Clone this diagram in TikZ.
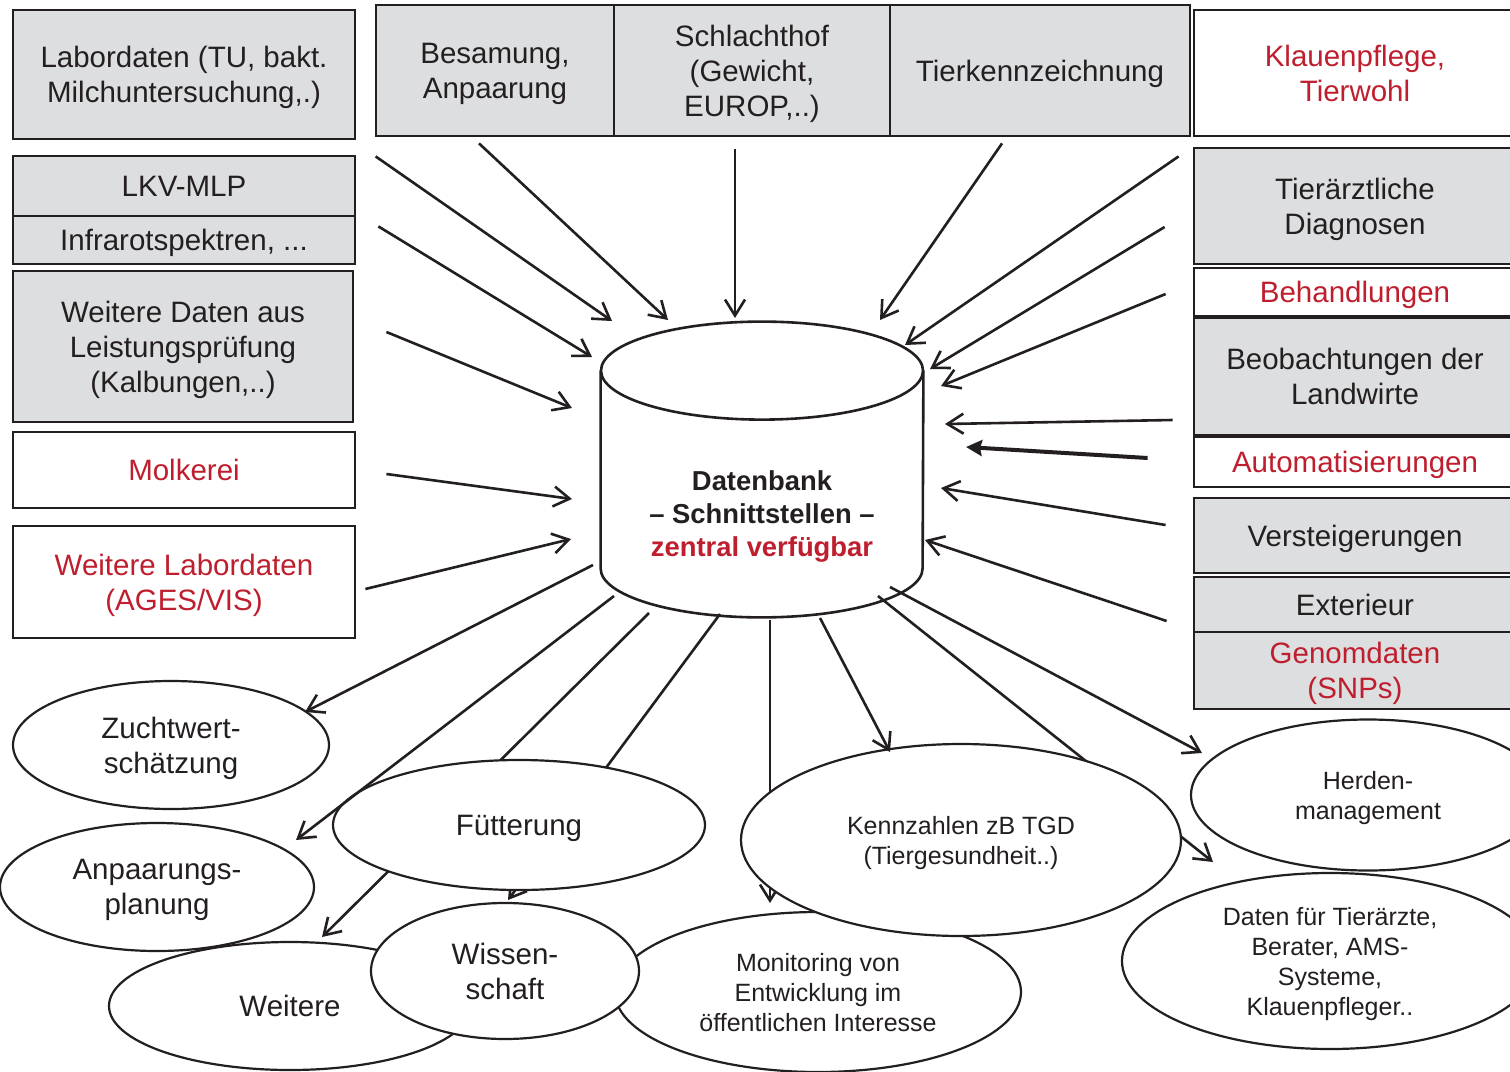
\documentclass[tikz,border=0pt]{standalone}
\usepackage{fontspec}
\setmainfont{Liberation Sans}
\usetikzlibrary{arrows.meta, shapes.geometric, backgrounds}

\definecolor{boxgray}{RGB}{221,222,224}
\definecolor{txtred}{RGB}{190,30,45}
\definecolor{ink}{RGB}{35,31,32}

\newcommand\boxfont{\fontsize{14.75pt}{17.5pt}\selectfont}
\newcommand\smallovalfont{\fontsize{12.5pt}{15pt}\selectfont}
\newcommand\dbfont{\fontsize{13.7pt}{16.5pt}\selectfont\bfseries}

\begin{document}
\begin{tikzpicture}[x=0.5pt, y=-0.5pt,
  gbox/.style={draw=ink, line width=1.4pt, fill=boxgray, inner sep=0pt,
    align=center, font=\boxfont, text=ink, text depth=0pt},
  wbox/.style={gbox, fill=white, text=txtred},
  oval/.style={ellipse, draw=ink, line width=1.1pt, fill=white, inner sep=0pt,
    align=center, font=\boxfont, text=ink, text depth=0pt},
  soval/.style={oval, font=\smallovalfont},
  cyl/.style={draw=ink, line width=1.3pt},
  inarr/.style={-{Straight Barb[length=8pt, width=10pt]}, line width=1.3pt, draw=ink},
  autoarr/.style={-{Stealth[length=8pt, width=8pt, inset=1pt]}, line width=2pt, draw=ink}]
\path[use as bounding box, clip] (0,0) rectangle (1510,1071);

% sources, left column
\node[gbox, minimum width=171pt, minimum height=64.5pt] (lab) at (184,74.5)
  {Labordaten (TU, bakt.\\Milchuntersuchung,.)};
\node[gbox, minimum width=171pt, minimum height=30pt] (lkv) at (184,186) {LKV-MLP};
\node[gbox, minimum width=171pt, minimum height=24pt] (infra) at (184,240) {Infrarotspektren, ...};
\node[gbox, minimum width=170pt, minimum height=75.5pt] (wdat) at (183,346.5)
  {Weitere Daten aus\\Leistungsprüfung\\(Kalbungen,..)};
\node[wbox, minimum width=171pt, minimum height=38pt] (molk) at (184,470) {Molkerei};
\node[wbox, minimum width=171pt, minimum height=56pt] (wlab) at (184,582)
  {Weitere Labordaten\\(AGES/VIS)};

% sources, top row
\node[gbox, minimum width=119pt, minimum height=65.5pt] (besam) at (495,70.5) {Besamung,\\Anpaarung};
\node[gbox, minimum width=138pt, minimum height=65.5pt] (schl) at (752,70.5)
  {Schlachthof\\(Gewicht,\\EUROP,..)};
\node[gbox, minimum width=150pt, minimum height=65.5pt] (tkz) at (1040,70.5) {Tierkennzeichnung};

% sources, right column
\node[wbox, minimum width=161pt, minimum height=63pt] (klau) at (1355,73) {Klauenpflege,\\Tierwohl};
\node[gbox, minimum width=161pt, minimum height=58pt] (tdiag) at (1355,206) {Tierärztliche\\Diagnosen};
\node[wbox, minimum width=161pt, minimum height=24pt] (behand) at (1355,292) {Behandlungen};
\node[gbox, minimum width=161pt, minimum height=58.5pt] (beob) at (1355,376.5)
  {Beobachtungen der\\Landwirte};
\node[wbox, minimum width=161pt, minimum height=25pt] (auto) at (1355,462) {Automatisierungen};
\node[gbox, minimum width=161pt, minimum height=37.5pt] (verst) at (1355,535.5) {Versteigerungen};
\node[gbox, minimum width=161pt, minimum height=27.5pt] (ext) at (1355,604.5) {Exterieur};
\node[gbox, minimum width=161pt, minimum height=38.5pt, text=txtred] (genom) at (1355,670.5)
  {Genomdaten\\(SNPs)};

% database
\node[minimum width=161pt, minimum height=147.5pt, inner sep=0pt] (db) at (762,469.5) {};
\draw[cyl] ([yshift=-24.5pt]db.north west) -- ([yshift=24.5pt]db.south west)
  arc[start angle=180, end angle=360, x radius=80.5pt, y radius=24.5pt]
  -- ([yshift=-24.5pt]db.north east);
\draw[cyl] ([yshift=-24.5pt]db.north) ellipse [x radius=80.5pt, y radius=24.5pt];
\node[font=\dbfont, text=ink, align=center, text depth=0pt] (dblbl) at ([yshift=-22pt]db.center)
  {Datenbank\\– Schnittstellen –\\\textcolor{txtred}{zentral verfügbar}};

% uses
\node[oval, minimum width=181pt, minimum height=64pt] (weit) at (290,1006) {Weitere};
\node[oval, minimum width=157pt, minimum height=64pt] (anp) at (157,887) {Anpaarungs-\\planung};
\node[oval, minimum width=158pt, minimum height=64pt] (zw) at (171,745) {Zuchtwert-\\schätzung};
\node[oval, minimum width=186pt, minimum height=65pt] (fuet) at (519,825) {Fütterung};
\node[soval, minimum width=203pt, minimum height=80pt] (mon) at (818,992)
  {Monitoring von\\Entwicklung im\\öffentlichen Interesse};
\node[oval, minimum width=134pt, minimum height=68pt] (wiss) at (505,971) {Wissen-\\schaft};
\node[soval, minimum width=220pt, minimum height=96pt] (kz) at (961,840)
  {Kennzahlen zB TGD\\(Tiergesundheit..)};
\node[soval, minimum width=177pt, minimum height=75.5pt] (herd) at (1368,795) {Herden-\\management};
\node[soval, minimum width=208pt, minimum height=88pt] (dft) at (1330,961)
  {Daten für Tierärzte,\\Berater, AMS-\\Systeme,\\Klauenpfleger..};

% arrows running under the ovals
\begin{pgfonlayer}{background}
\fill[white] (0,0) rectangle (1510,1071);
\draw[inarr] ([shift={(-113,143.5)}]db.center) -- ([shift={(32,-69)}]weit.center);
\draw[inarr] ([shift={(-42,144.5)}]db.center) -- ([shift={(3,-71)}]wiss.center);
\draw[inarr] ([shift={(8,150.5)}]db.center) -- ([shift={(-48,-89)}]mon.center);
\draw[inarr] ([shift={(116,126.5)}]db.center) -- ([shift={(-117,-99)}]dft.center);
\end{pgfonlayer}

% arrows into the database
\draw[inarr] ([shift={(1,19)}]besam.south west) -- ([shift={(-150,-148.5)}]db.center);
\draw[inarr] ([shift={(-16,6)}]besam.south) -- ([shift={(-94,-149.5)}]db.center);
\draw[inarr] ([shift={(-17,12)}]schl.south) -- ([shift={(-27,-151.5)}]db.center);
\draw[inarr] ([shift={(-38,6)}]tkz.south) -- ([shift={(118,-149.5)}]db.center);
\draw[inarr] ([shift={(-14,19)}]klau.south west) -- ([shift={(143,-124.5)}]db.center);
\draw[inarr] ([shift={(-28,21)}]tdiag.west) -- ([shift={(168,-100.5)}]db.center);
\draw[inarr] ([shift={(-27,2)}]behand.west) -- ([shift={(179,-83.5)}]db.center);
\draw[inarr] ([shift={(-20,43.5)}]beob.west) -- ([shift={(183,-45.5)}]db.center);
\draw[autoarr] ([shift={(-45,-4)}]auto.west) -- ([shift={(204,-22.5)}]db.center);
\draw[inarr] ([shift={(-27,-10.5)}]verst.west) -- ([shift={(179,18.5)}]db.center);
\draw[inarr] ([shift={(-26,16.5)}]ext.west) -- ([shift={(163,70.5)}]db.center);
\draw[inarr] ([shift={(22,9)}]lkv.south east) -- ([shift={(-170,-112.5)}]db.center);
\draw[inarr] ([shift={(32,-14.5)}]wdat.east) -- ([shift={(-190,-61.5)}]db.center);
\draw[inarr] ([shift={(30,4)}]molk.east) -- ([shift={(-190,29.5)}]db.center);
\draw[inarr] ([shift={(9,7)}]wlab.east) -- ([shift={(-191,69.5)}]db.center);

% arrows out of the database
\draw[inarr] ([shift={(-169,95.5)}]db.center) -- ([shift={(134,-33)}]zw.center);
\draw[inarr] ([shift={(-148,126.5)}]db.center) -- ([shift={(139,-47)}]anp.center);
\draw[inarr] ([shift={(58,148.5)}]db.center) -- ([shift={(-71,-88)}]kz.center);
\draw[inarr] ([shift={(128,117.5)}]db.center) -- ([shift={(-166,-42)}]herd.center);
\end{tikzpicture}
\end{document}
